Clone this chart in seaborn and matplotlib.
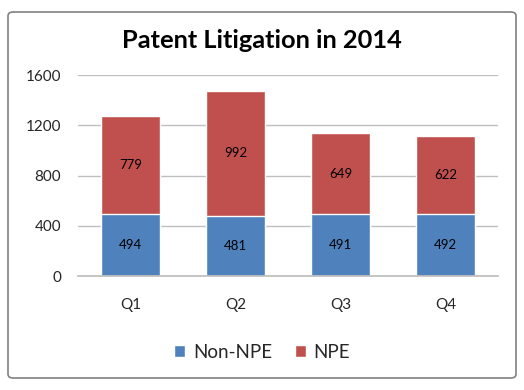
import matplotlib
matplotlib.use("Agg")
import matplotlib.pyplot as plt
import seaborn as sns
import pandas as pd
from matplotlib.patches import FancyBboxPatch, Patch

quarters = ["Q1", "Q2", "Q3", "Q4"]
non_npe = [494, 481, 491, 492]
npe = [779, 992, 649, 622]
yticks = [0, 400, 800, 1200, 1600]

sns.set_theme(style="white")
plt.rcParams['font.family'] = ['Lato', 'DejaVu Sans']

blue = "#4F81BD"
red = "#C0504D"

fig = plt.figure(figsize=(5.24, 3.9), dpi=100)
ax = fig.add_axes([78/524, 1-276/390, 420/524, 201/390])

df = pd.DataFrame({"Quarter": quarters, "Non-NPE": non_npe, "NPE": npe})
df["Total"] = df["Non-NPE"] + df["NPE"]

ax.set_axisbelow(True)
for y in yticks:
    ax.axhline(y, color="#BFBFBF", lw=1, zorder=0)

sns.barplot(data=df, x="Quarter", y="Total", color=red, width=0.57,
            edgecolor="white", linewidth=1, ax=ax, saturation=1)
sns.barplot(data=df, x="Quarter", y="Non-NPE", color=blue, width=0.57,
            edgecolor="white", linewidth=1, ax=ax, saturation=1)

for i, (a, b) in enumerate(zip(non_npe, npe)):
    ax.text(i, a/2, str(a), ha="center", va="center", fontsize=9.5, color="black")
    ax.text(i, a + b/2, str(b), ha="center", va="center", fontsize=9.5, color="black")

ax.set_ylim(0, 1600)
ax.set_xlim(-0.5, 3.5)
ax.set_yticks(yticks)
ax.set_yticklabels([str(v) for v in yticks], fontsize=11)
ax.tick_params(axis="x", labelsize=11, pad=16, length=0)
ax.tick_params(axis="y", pad=12, length=0)
ax.set_xlabel("")
ax.set_ylabel("")
for s in ["top", "right", "left"]:
    ax.spines[s].set_visible(False)
ax.spines["bottom"].set_color("#BFBFBF")

fig.text(0.5, 1-40/390, "Patent Litigation in 2014", ha="center", va="center",
         fontsize=18.3, fontweight="bold", color="black")

handles = [Patch(facecolor=blue, label="Non-NPE"), Patch(facecolor=red, label="NPE")]
fig.legend(handles=handles, loc="center", bbox_to_anchor=(0.5, 1-352/390), ncol=2,
           frameon=False, fontsize=13.5, handlelength=0.6, handleheight=0.6,
           handletextpad=0.4, columnspacing=1.2)

border = FancyBboxPatch((8/524, 12/390), 508/524, 366/390,
                        boxstyle="round,pad=0,rounding_size=0.01",
                        transform=fig.transFigure, fill=False,
                        edgecolor="#808080", lw=1.2)
fig.patches.append(border)

fig.savefig("out.png", dpi=100)
